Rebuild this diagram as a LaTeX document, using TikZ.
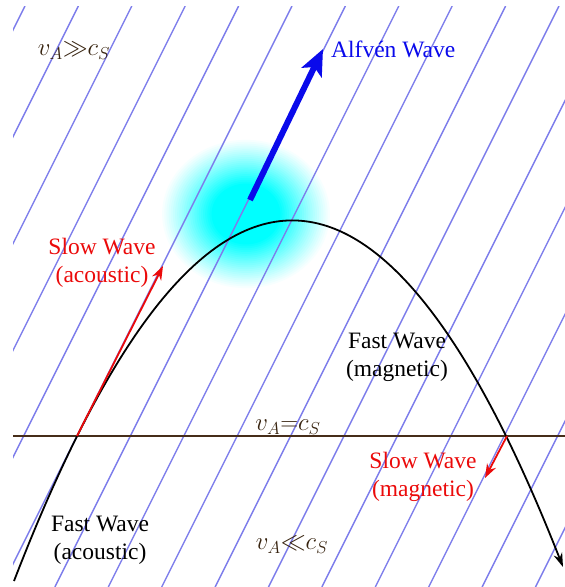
\documentclass[tikz,border=0pt]{standalone}
\usepackage{amssymb}
\usepackage{amsmath}
\usepackage{fontspec}
\setmainfont{Liberation Serif}
\newfontfamily\wavefont{Liberation Serif}
\usepackage{tikz}
\usetikzlibrary{arrows}
\usetikzlibrary{arrows.meta}
\usepackage{xcolor}
\definecolor{fieldblue}{RGB}{125,125,235}
\definecolor{axisbrown}{RGB}{70,45,25}
\definecolor{wavered}{RGB}{235,10,10}
\definecolor{alfvenblue}{RGB}{10,10,235}
\definecolor{labelbrown}{RGB}{55,35,15}
\definecolor{glowcyan}{RGB}{0,255,255}
\newcommand{\vA}{v_A}
\newcommand{\cS}{c_S}
\newcommand{\wavesize}{\wavefont\fontsize{23.5}{28}\selectfont}

\begin{document}
\begin{tikzpicture}[x=1pt,y=-1pt]
\tikzstyle{every node}=[font=\wavesize,align=center,inner sep=0pt]
\tikzstyle{fieldline}=[fieldblue,line width=1.4pt]
\tikzstyle{slowarrow}=[wavered,line width=1.8pt,-{Stealth[length=14pt,width=10pt]}]
\useasboundingbox (0,0) rectangle (565,587);
\coordinate (glow) at (246,214);
\foreach \i in {40,...,1}{
\pgfmathsetmacro{\p}{100*min(1,((40-\i)/24)^1.1)}
\fill[glowcyan!\p!white] (glow) ellipse ({2.15*\i pt} and {1.9*\i pt});
}
\begin{scope}
\clip (13,6) rectangle (565,587);
\foreach \k in {0,...,15}
\draw[fieldline] ({25+53.4*\k},6) -- ({25+53.4*\k-290.5},587);
\end{scope}
\coordinate (a0) at (13,436);
\coordinate (a1) at (565,436);
\draw[axisbrown,line width=2pt] (a0) -- (a1);
\coordinate (fl) at (14,581);
\coordinate (fr) at (563,567);
\coordinate (cl) at (77,436);
\coordinate (cr) at (507,436);
\draw[line width=1.8pt,-{Stealth[length=14pt,width=9pt]}] (fl) .. controls (197,107) and (380,101) .. (fr);
\coordinate (sa) at (163,266);
\coordinate (sm) at (485,478);
\draw[slowarrow] (cl) -- (sa);
\draw[slowarrow] (cr) -- (sm);
\coordinate (al0) at (250,200);
\coordinate (al1) at (323,49);
\draw[alfvenblue,line width=6pt,-{Stealth[length=26pt,width=22pt,inset=6pt]}] (al0) -- (al1);
\node[labelbrown] (fast) at (74,51) {$\vA{\gg}\cS$};
\node[alfvenblue,anchor=west] (alf) at (331,49) {Alfv\'en Wave};
\node[wavered] (slowac) at (102,263) {Slow Wave\\(acoustic)};
\node (fastmag) at (397,357) {Fast Wave\\(magnetic)};
\node[labelbrown] (eq) at (288,427) {$\vA{=}\cS$};
\node[wavered] (slowmag) at (423,477) {Slow Wave\\(magnetic)};
\node (fastac) at (100,540) {Fast Wave\\(acoustic)};
\node[labelbrown] (slowreg) at (292,545) {$\vA{\ll}\cS$};
\end{tikzpicture}
\end{document}
